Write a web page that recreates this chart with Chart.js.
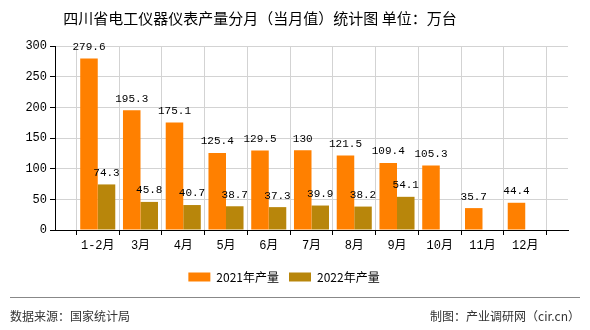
<!DOCTYPE html>
<html>
<head>
<meta charset="utf-8">
<script src="https://cdn.jsdelivr.net/npm/chart.js@4"></script>
<style>
  body { margin: 0; background: #fff; }
  #wrap { position: relative; width: 590px; height: 330px; font-family: "Noto Sans CJK SC", sans-serif; }
  #title { position: absolute; left: 0; top: 7px; width: 520px; text-align: center; font-size: 15px; color: #000; }
  #sep { position: absolute; left: 10px; top: 297px; width: 570px; height: 0; border-top: 1px solid #888; }
  .foot { position: absolute; top: 307px; font-size: 12px; color: #333; }
</style>
</head>
<body>
<div id="wrap">
  <canvas id="chart" width="590" height="330"></canvas>
  <div id="title">四川省电工仪器仪表产量分月（当月值）统计图 单位：万台</div>
  <div id="sep"></div>
  <div class="foot" style="left:10px">数据来源：国家统计局</div>
  <div class="foot" style="right:10px">制图：产业调研网（cir.cn）</div>
</div>
<script>
// months (empty slot at both ends, like the original axis)
const months = ["", "1-2月", "3月", "4月", "5月", "6月", "7月", "8月", "9月", "10月", "11月", "12月", ""];
const output2021 = [null, 279.6, 195.3, 175.1, 125.4, 129.5, 130, 121.5, 109.4, 105.3, 35.7, 44.4, null];
const output2022 = [null, 74.3, 45.8, 40.7, 38.7, 37.3, 39.9, 38.2, 54.1, null, null, null, null];
const yTicks = [0, 50, 100, 150, 200, 250, 300];

const monoFont = "'Liberation Mono', 'DejaVu Sans Mono', 'Noto Sans CJK SC', monospace";

// value labels above each bar
const barLabels = {
  id: "barLabels",
  afterDatasetsDraw(chart) {
    const ctx = chart.ctx;
    ctx.save();
    ctx.font = "11px " + monoFont;
    ctx.fillStyle = "#000";
    ctx.textAlign = "center";
    ctx.textBaseline = "bottom";
    chart.data.datasets.forEach((ds, i) => {
      chart.getDatasetMeta(i).data.forEach((bar, j) => {
        const v = ds.data[j];
        if (v === null) return;
        ctx.fillText(String(v), bar.x, bar.y - 6);
      });
    });
    ctx.restore();
  }
};

new Chart(document.getElementById("chart"), {
  type: "bar",
  data: {
    labels: months,
    datasets: [
      { label: "2021年产量", data: output2021, backgroundColor: "#FF8000" },
      { label: "2022年产量", data: output2022, backgroundColor: "#B8860B" },
    ],
  },
  options: {
    responsive: false,
    animation: false,
    layout: { padding: { left: 0, top: 46, right: 22, bottom: 37 } },
    datasets: { bar: { categoryPercentage: 0.82, barPercentage: 1 } },
    scales: {
      x: {
        offset: false,
        grid: { color: "#d3d3d3", tickColor: "#000", tickLength: 5 },
        border: { color: "#000" },
        ticks: { color: "#000", font: { family: monoFont, size: 12 }, padding: 4, maxRotation: 0, autoSkip: false },
        afterFit: (scale) => { scale.height = 31; },
      },
      y: {
        min: 0,
        max: 300,
        grid: { color: "#d3d3d3", tickColor: "#000", tickLength: 5 },
        border: { color: "#000" },
        afterBuildTicks: (scale) => { scale.ticks = yTicks.map((v) => ({ value: v })); },
        ticks: { color: "#000", font: { family: monoFont, size: 12 }, padding: 3 },
        afterFit: (scale) => { scale.width = 55; },
      },
    },
    plugins: {
      legend: {
        position: "bottom",
        labels: {
          boxWidth: 22,
          boxHeight: 9,
          padding: 10,
          color: "#000",
          font: { family: "'Noto Sans CJK SC', sans-serif", size: 12 },
        },
      },
      tooltip: { enabled: false },
    },
  },
  plugins: [barLabels],
});
</script>
</body>
</html>
